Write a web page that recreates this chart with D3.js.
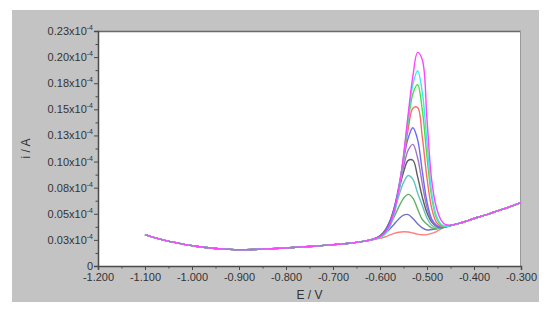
<!DOCTYPE html>
<html>
<head>
<meta charset="utf-8">
<script src="https://cdn.jsdelivr.net/npm/d3@7"></script>
<style>
html,body{margin:0;padding:0;background:#fff;}
svg{display:block;}
text{font-family:"Liberation Sans",Arial,sans-serif;fill:#333;}
</style>
</head>
<body>
<svg id="chart" width="550" height="315"></svg>
<script>
// ---- data ----
const xTicks = [-1.2, -1.1, -1.0, -0.9, -0.8, -0.7, -0.6, -0.5, -0.4, -0.3];
const xTickLabels = ["-1.200","-1.100","-1.000","-0.900","-0.800","-0.700","-0.600","-0.500","-0.400","-0.300"];
const yTicks = [0, 0.025, 0.05, 0.075, 0.1, 0.125, 0.15, 0.175, 0.2, 0.225];
const yTickLabels = ["0","0.03","0.05","0.08","0.10","0.13","0.15","0.18","0.20","0.23"];

// shared baseline outside the peak window (current in 10^-4 A)
const eLeft = [-1.10,-1.08,-1.06,-1.04,-1.02,-1.00,-0.98,-0.95,-0.92,-0.90,-0.87,-0.84,-0.80,-0.75,-0.70,-0.67,-0.65,-0.63];
const iLeft = [0.0300,0.0272,0.0248,0.0228,0.0210,0.0195,0.0182,0.0168,0.0159,0.0156,0.0158,0.0164,0.0173,0.0186,0.0204,0.0216,0.0226,0.0240];
const eRight = [-0.43,-0.42,-0.40,-0.38,-0.36,-0.34,-0.32,-0.30];
const iRight = [0.0410,0.0424,0.0455,0.0482,0.0512,0.0542,0.0573,0.0606];

// peak window
const ePeak = [-0.62,-0.61,-0.60,-0.59,-0.58,-0.57,-0.56,-0.55,-0.54,-0.53,-0.52,-0.51,-0.50,-0.49,-0.48,-0.47,-0.46,-0.45,-0.44];
const curve0  = [0.0248,0.0255,0.0265,0.0278,0.0295,0.0312,0.0323,0.0328,0.0325,0.0316,0.0305,0.0299,0.0300,0.0312,0.0330,0.0355,0.0375,0.0388,0.0398];
const curve1  = [0.0250,0.0263,0.0281,0.0309,0.0350,0.0400,0.0451,0.0487,0.0492,0.0455,0.0405,0.0365,0.0345,0.0350,0.0357,0.0366,0.0376,0.0388,0.0398];
const curve2  = [0.0250,0.0264,0.0286,0.0323,0.0383,0.0469,0.0566,0.0648,0.0686,0.0650,0.0545,0.0445,0.0400,0.0365,0.0357,0.0366,0.0376,0.0388,0.0398];
const curve3  = [0.0251,0.0266,0.0290,0.0335,0.0414,0.0530,0.0671,0.0798,0.0867,0.0830,0.0700,0.0580,0.0460,0.0390,0.0365,0.0368,0.0376,0.0388,0.0398];
const curve4  = [0.0250,0.0265,0.0289,0.0335,0.0420,0.0552,0.0725,0.0897,0.1011,0.1013,0.0856,0.0660,0.0510,0.0420,0.0380,0.0368,0.0376,0.0388,0.0398];
const curve5  = [0.0250,0.0263,0.0284,0.0327,0.0408,0.0544,0.0735,0.0945,0.1109,0.1164,0.1036,0.0786,0.0559,0.0435,0.0385,0.0371,0.0377,0.0388,0.0398];
const curve6  = [0.0249,0.0262,0.0283,0.0325,0.0407,0.0552,0.0764,0.1012,0.1225,0.1323,0.1210,0.0905,0.0613,0.0450,0.0390,0.0373,0.0377,0.0388,0.0398];
const curve7  = [0.0249,0.0260,0.0277,0.0311,0.0381,0.0516,0.0733,0.1020,0.1312,0.1510,0.1518,0.1234,0.0840,0.0552,0.0418,0.0379,0.0377,0.0388,0.0398];
const curve8  = [0.0249,0.0260,0.0275,0.0305,0.0371,0.0501,0.0724,0.1035,0.1381,0.1650,0.1736,0.1494,0.1043,0.0660,0.0459,0.0390,0.0378,0.0388,0.0398];
const curve9  = [0.0249,0.0259,0.0274,0.0303,0.0366,0.0494,0.0720,0.1048,0.1426,0.1739,0.1869,0.1664,0.1183,0.0700,0.0480,0.0400,0.0380,0.0388,0.0398];
const curve10 = [0.0250,0.0262,0.0280,0.0315,0.0385,0.0515,0.0735,0.1055,0.1455,0.1820,0.2045,0.1975,0.1400,0.0820,0.0560,0.0440,0.0395,0.0390,0.0398];
const curveColors = ["#ff7f7f","#7373c4","#62b062","#63c3c3","#5e5e5e","#a474c4","#6a6aff","#ff6868","#44e044","#44e4f4","#ff44ff"];

// ---- layout ----
const svg = d3.select("#chart");
const P = {l: 98, r: 521, t: 31, b: 266};

svg.append("rect").attr("x", 12).attr("y", 10).attr("width", 527).attr("height", 292).attr("fill", "#c3c3c3");
svg.append("rect").attr("x", P.l).attr("y", P.t).attr("width", P.r - P.l).attr("height", P.b - P.t)
  .attr("fill", "#fff");

const x = d3.scaleLinear().domain([-1.2, -0.3]).range([P.l, P.r]);
const y = d3.scaleLinear().domain([0, 0.225]).range([P.b, P.t]);

// frame
svg.append("line").attr("x1", P.l).attr("x2", P.r).attr("y1", P.t + 0.5).attr("y2", P.t + 0.5).attr("stroke", "#6a6a6a").attr("stroke-width", 1.5);
svg.append("line").attr("x1", P.r - 0.5).attr("x2", P.r - 0.5).attr("y1", P.t).attr("y2", P.b).attr("stroke", "#9a9a9a").attr("stroke-width", 1);

// curves
const allCurves = [curve0, curve1, curve2, curve3, curve4, curve5, curve6, curve7, curve8, curve9, curve10];
const line = d3.line().x(d => x(d[0])).y(d => y(d[1])).curve(d3.curveCatmullRom.alpha(0.5));
const g = svg.append("g");
allCurves.forEach((c, k) => {
  const pts = eLeft.map((e, i) => [e, iLeft[i]])
    .concat(ePeak.map((e, i) => [e, c[i]]))
    .concat(eRight.map((e, i) => [e, iRight[i]]));
  g.append("path").datum(pts).attr("d", line).attr("fill", "none")
    .attr("stroke", curveColors[k]).attr("stroke-width", 1.4);
});

// x axis
const xMinor = d3.range(-1.15, -0.3, 0.1);
const xAxis = svg.append("g").attr("transform", `translate(0,${P.b})`)
  .call(d3.axisBottom(x).tickValues(xTicks).tickFormat((d, i) => xTickLabels[i]).tickSizeOuter(0).tickSize(4).tickPadding(3));
svg.append("g").attr("transform", `translate(0,${P.b})`)
  .call(d3.axisBottom(x).tickValues(xMinor).tickFormat("").tickSizeOuter(0).tickSize(2.5))
  .select(".domain").remove();

// y axis
const yMinor = d3.range(0.0125, 0.225, 0.025);
const yAxis = svg.append("g").attr("transform", `translate(${P.l},0)`)
  .call(d3.axisLeft(y).tickValues(yTicks).tickFormat("").tickSizeOuter(0).tickSize(4));
svg.append("g").attr("transform", `translate(${P.l},0)`)
  .call(d3.axisLeft(y).tickValues(yMinor).tickFormat("").tickSizeOuter(0).tickSize(2.5))
  .select(".domain").remove();

svg.selectAll(".domain").attr("stroke", "#4a4a4a").attr("stroke-width", 1.5);
svg.selectAll(".tick line").attr("stroke", "#4a4a4a");
xAxis.selectAll("text").attr("font-size", 11).attr("fill", "#333")
  .attr("font-family", '"Liberation Sans", Arial, sans-serif');

// y tick labels with superscript
yTicks.forEach((v, i) => {
  const t = svg.append("text").attr("x", P.l - 5).attr("y", y(v) + 4)
    .attr("text-anchor", "end").attr("font-size", 11);
  if (i === 0) { t.text(yTickLabels[i]); return; }
  t.append("tspan").text(yTickLabels[i] + "x10");
  t.append("tspan").attr("font-size", 7).attr("dy", -5).text("-4");
});

// axis titles
svg.append("text").attr("x", (P.l + P.r) / 2).attr("y", 299).attr("text-anchor", "middle")
  .attr("font-size", 12).text("E / V");
svg.append("text").attr("transform", `translate(30,${(P.t + P.b) / 2}) rotate(-90)`)
  .attr("text-anchor", "middle").attr("font-size", 12).text("i / A");
</script>
</body>
</html>
